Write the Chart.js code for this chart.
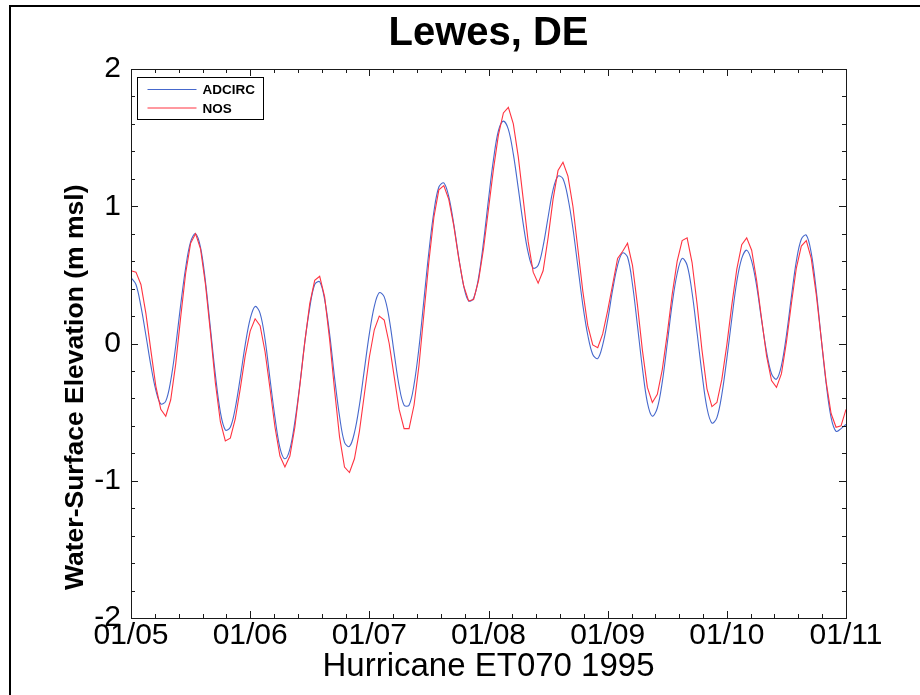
<!DOCTYPE html>
<html>
<head>
<meta charset="utf-8">
<title>Lewes, DE</title>
<script src="https://cdn.jsdelivr.net/npm/chart.js@4.4.1/dist/chart.umd.min.js"></script>
<style>
  html, body { margin: 0; padding: 0; background: #fff; }
  #wrap { width: 920px; height: 695px; }
  canvas { display: block; }
</style>
</head>
<body>
<div id="wrap"><canvas id="chart" width="920" height="695"></canvas></div>
<script>
// Tick labels along the time axis (one per day, axis runs in hours from 01/05 00:00)
const dayLabels = ['01/05', '01/06', '01/07', '01/08', '01/09', '01/10', '01/11'];

// Hourly water-surface elevation (m msl), model run
const adcirc = [
  0.48, 0.43, 0.27, 0.06, -0.16, -0.34, -0.44, -0.42, -0.27, -0.02, 0.28, 0.55,
  0.74, 0.80, 0.70, 0.45, 0.11, -0.23, -0.50, -0.63, -0.61, -0.47, -0.25, -0.01,
  0.18, 0.27, 0.22, 0.03, -0.26, -0.54, -0.76, -0.84, -0.77, -0.57, -0.30, 0.01,
  0.26, 0.43, 0.45, 0.32, 0.07, -0.25, -0.53, -0.72, -0.75, -0.65, -0.45, -0.19,
  0.07, 0.27, 0.37, 0.34, 0.18, -0.07, -0.31, -0.45, -0.45, -0.30, -0.03, 0.32,
  0.67, 0.96, 1.14, 1.17, 1.07, 0.87, 0.63, 0.42, 0.31, 0.33, 0.48, 0.74,
  1.05, 1.34, 1.55, 1.62, 1.56, 1.38, 1.13, 0.87, 0.66, 0.55, 0.57, 0.71,
  0.92, 1.12, 1.22, 1.20, 1.06, 0.84, 0.56, 0.28, 0.06, -0.08, -0.11, -0.01,
  0.17, 0.39, 0.57, 0.66, 0.63, 0.43, 0.13, -0.18, -0.43, -0.53, -0.47, -0.28,
  0.00, 0.29, 0.51, 0.62, 0.57, 0.37, 0.08, -0.22, -0.47, -0.58, -0.54, -0.37,
  -0.11, 0.18, 0.45, 0.62, 0.68, 0.60, 0.42, 0.17, -0.06, -0.22, -0.26, -0.16,
  0.06, 0.34, 0.60, 0.76, 0.79, 0.66, 0.39, 0.04, -0.29, -0.54, -0.64, -0.62,
  -0.59
];

// Hourly water-surface elevation (m msl), NOS gauge
const nos = [
  0.53, 0.52, 0.43, 0.22, -0.05, -0.31, -0.48, -0.53, -0.41, -0.15, 0.19, 0.51,
  0.73, 0.80, 0.69, 0.43, 0.08, -0.29, -0.57, -0.71, -0.69, -0.55, -0.33, -0.09,
  0.09, 0.18, 0.13, -0.06, -0.33, -0.61, -0.82, -0.90, -0.82, -0.61, -0.31, 0.01,
  0.29, 0.46, 0.49, 0.34, 0.03, -0.34, -0.68, -0.90, -0.94, -0.84, -0.64, -0.37,
  -0.10, 0.10, 0.20, 0.17, 0.00, -0.24, -0.48, -0.62, -0.62, -0.45, -0.16, 0.22,
  0.60, 0.92, 1.12, 1.15, 1.05, 0.86, 0.62, 0.42, 0.31, 0.32, 0.46, 0.69,
  0.98, 1.27, 1.52, 1.68, 1.72, 1.60, 1.36, 1.05, 0.74, 0.52, 0.44, 0.53,
  0.77, 1.05, 1.26, 1.32, 1.22, 1.00, 0.69, 0.38, 0.13, -0.01, -0.03, 0.07,
  0.24, 0.43, 0.62, 0.67, 0.73, 0.57, 0.28, -0.05, -0.32, -0.43, -0.37, -0.19,
  0.07, 0.36, 0.60, 0.75, 0.77, 0.59, 0.29, -0.05, -0.33, -0.46, -0.43, -0.26,
  -0.01, 0.28, 0.54, 0.72, 0.77, 0.68, 0.46, 0.18, -0.09, -0.27, -0.32, -0.22,
  0.01, 0.29, 0.55, 0.71, 0.75, 0.62, 0.36, 0.04, -0.28, -0.51, -0.61, -0.60,
  -0.48
];

const seriesNames = ['ADCIRC', 'NOS'];
const seriesColors = ['#4668cc', '#ff3340'];
const yAxisTitle = 'Water-Surface Elevation (m msl)';

const FONT = "'Liberation Sans', Arial, Helvetica, sans-serif";
const HOURS_PER_DAY = 24;
const lastHour = (dayLabels.length - 1) * HOURS_PER_DAY;

// points indexed by hour offset from the first day
const toPoints = arr => arr.map((v, i) => ({ x: i, y: v }));

// frame around the figure, inward major/minor ticks on all four sides,
// vertical axis title and the legend box
const decorations = {
  id: 'decorations',
  beforeDraw(chart) {
    const ctx = chart.ctx;
    ctx.save();
    ctx.fillStyle = '#ffffff';
    ctx.fillRect(0, 0, chart.width, chart.height);
    ctx.fillStyle = '#000000';
    ctx.fillRect(9, 5, chart.width - 9, 2);
    ctx.fillRect(9, 5, 2, chart.height - 5);

    // vertical axis title, read bottom to top
    ctx.translate(76, 590);
    ctx.rotate(-Math.PI / 2);
    ctx.font = 'bold 26.5px ' + FONT;
    ctx.textAlign = 'left';
    ctx.textBaseline = 'middle';
    ctx.fillText(yAxisTitle, 0, 0);
    ctx.restore();
  },
  afterDatasetsDraw(chart) {
    const { ctx, chartArea: a, scales: { x, y } } = chart;
    ctx.save();
    ctx.strokeStyle = '#1a1a1a';
    ctx.lineWidth = 1;
    ctx.beginPath();
    const xMinor = HOURS_PER_DAY / 5;
    const nx = Math.round(lastHour / xMinor);
    for (let i = 0; i <= nx; i++) {
      const px = Math.round(x.getPixelForValue(i * xMinor)) + 0.5;
      const len = i % 5 === 0 ? 7 : 4;
      ctx.moveTo(px, a.bottom); ctx.lineTo(px, a.bottom - len);
      ctx.moveTo(px, a.top); ctx.lineTo(px, a.top + len);
    }
    const yMinor = 0.2;
    const ny = Math.round((y.max - y.min) / yMinor);
    for (let i = 0; i <= ny; i++) {
      const py = Math.round(y.getPixelForValue(y.min + i * yMinor)) + 0.5;
      const len = i % 5 === 0 ? 7 : 4;
      ctx.moveTo(a.left, py); ctx.lineTo(a.left + len, py);
      ctx.moveTo(a.right, py); ctx.lineTo(a.right - len, py);
    }
    ctx.stroke();
    ctx.strokeRect(Math.round(a.left) + 0.5, Math.round(a.top) + 0.5,
                   Math.round(a.right - a.left), Math.round(a.bottom - a.top));

    // legend in the upper-left corner of the plot
    const bx = Math.round(a.left) + 6.5, by = Math.round(a.top) + 8.5;
    const bw = 126, bh = 42;
    ctx.fillStyle = '#ffffff';
    ctx.fillRect(bx, by, bw, bh);
    ctx.strokeStyle = '#000000';
    ctx.strokeRect(bx, by, bw, bh);
    ctx.font = 'bold 13.5px ' + FONT;
    ctx.textBaseline = 'middle';
    ctx.textAlign = 'left';
    chart.data.datasets.forEach((ds, i) => {
      const ly = by + 12 + i * 18.5;
      ctx.strokeStyle = ds.borderColor;
      ctx.lineWidth = 1;
      ctx.beginPath();
      ctx.moveTo(bx + 10, ly); ctx.lineTo(bx + 59, ly);
      ctx.stroke();
      ctx.fillStyle = '#000000';
      ctx.fillText(ds.label, bx + 65, ly + 1);
    });
    ctx.restore();
  }
};

Chart.defaults.color = '#000000';
Chart.defaults.font.family = FONT;

new Chart(document.getElementById('chart'), {
  type: 'line',
  data: {
    datasets: [
      {
        label: seriesNames[0],
        data: toPoints(adcirc),
        borderColor: seriesColors[0],
        borderWidth: 1.1,
        pointRadius: 0,
        tension: 0.35,
        fill: false,
        order: 1
      },
      {
        label: seriesNames[1],
        data: toPoints(nos),
        borderColor: seriesColors[1],
        borderWidth: 1.1,
        pointRadius: 0,
        tension: 0,
        fill: false,
        order: 0
      }
    ]
  },
  options: {
    responsive: false,
    animation: false,
    devicePixelRatio: 1,
    layout: { padding: { left: 0, right: 74, top: 0, bottom: 0 } },
    plugins: {
      legend: { display: false },
      tooltip: { enabled: false },
      title: {
        display: true,
        fullSize: false,
        text: 'Lewes, DE',
        color: '#000000',
        font: { family: FONT, size: 40, weight: 'bold', lineHeight: 1.2 },
        padding: { top: 10, bottom: 11 }
      }
    },
    scales: {
      x: {
        type: 'linear',
        min: 0,
        max: lastHour,
        grid: { display: false, drawTicks: false },
        border: { display: false },
        ticks: {
          stepSize: HOURS_PER_DAY,
          padding: 0,
          maxRotation: 0,
          autoSkip: false,
          font: { size: 30 },
          callback: v => dayLabels[Math.round(v / HOURS_PER_DAY)]
        },
        title: {
          display: true,
          text: 'Hurricane ET070 1995',
          font: { size: 33, lineHeight: 1.2 },
          padding: { top: 0, bottom: 8 }
        },
        afterFit: s => { s.height = 77; }
      },
      y: {
        type: 'linear',
        min: -2,
        max: 2,
        grid: { display: false, drawTicks: false },
        border: { display: false },
        ticks: {
          stepSize: 1,
          padding: 10,
          font: { size: 30 }
        },
        afterFit: s => { s.width = 131; }
      }
    }
  },
  plugins: [decorations]
});
</script>
</body>
</html>
